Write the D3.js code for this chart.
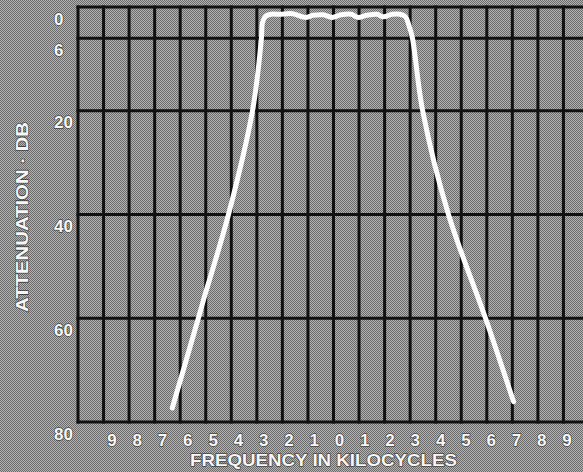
<!DOCTYPE html>
<html>
<head>
<meta charset="utf-8">
<script src="https://cdn.jsdelivr.net/npm/d3@7"></script>
<style>
  body { margin: 0; background: #8f8f8f; }
  svg { display: block; }
  .lbl { font-family: "Liberation Sans", Arial, sans-serif; font-weight: bold;
         fill: #f6f6f6; stroke: #2a2a2a; stroke-width: 1.4px; paint-order: stroke;
         stroke-opacity: 0.75; }
</style>
</head>
<body>
<div id="chart"></div>
<script>
// frequency offset from centre (kc) and attenuation (db)
var freq = [-6.31, -5.29, -5.09, -4.11, -3.17, -2.82, -2.78, -2.66, -2.45, -2.1, -1.6,
            -1.1, -0.8, -0.4, -0.05, 0.3, 0.7, 0.95, 1.3, 1.7, 1.95, 2.3, 2.6,
            2.82, 2.95, 3.09, 3.49, 4.5, 5.95, 7.05];
var atten = [77.3, 60, 56.5, 40, 20, 6, 3, 1.8, 1.4, 1.4, 1.3,
             2.0, 1.6, 1.5, 2.0, 1.5, 1.4, 2.0, 1.6, 1.4, 1.9, 1.4, 1.4,
             1.9, 3.5, 6, 20, 40, 60, 76.1];

var freqLines = d3.range(-10, 11);          // one line per kilocycle
var dbLines = [0, 6, 20, 40, 60, 80];
var dbLabels = ["0", "6", "20", "40", "60", "80"];
var freqTicks = [-9, -8, -7, -6, -5, -4, -3, -2, -1, 0, 1, 2, 3, 4, 5, 6, 7, 8, 9];
var freqLabels = ["9", "8", "7", "6", "5", "4", "3", "2", "1", "0",
                  "1", "2", "3", "4", "5", "6", "7", "8", "9"];

var width = 583, height = 472;

var svg = d3.select("#chart").append("svg")
    .attr("width", width)
    .attr("height", height);

// halftone-ish screen
var pat = svg.append("defs").append("pattern")
    .attr("id", "screen")
    .attr("width", 2).attr("height", 2)
    .attr("patternUnits", "userSpaceOnUse");
pat.append("rect").attr("width", 2).attr("height", 2).attr("fill", "#b2b2b2");
pat.append("rect").attr("width", 1).attr("height", 1).attr("fill", "#6c6c6c");
pat.append("rect").attr("x", 1).attr("y", 1).attr("width", 1).attr("height", 1).attr("fill", "#6c6c6c");

svg.append("rect")
    .attr("width", width).attr("height", height)
    .attr("fill", "url(#screen)");

var x = d3.scaleLinear().domain([-10, 10]).range([78, 589]);
var y = d3.scaleLinear().domain([0, 80]).range([7, 422]);
// printed figures sit a little off the rules
var xLab = d3.scaleLinear().domain([-9, 9]).range([112, 567]);

var grid = svg.append("g").attr("stroke", "#111").attr("stroke-width", 3);

grid.selectAll(".v")
    .data(freqLines)
    .enter().append("line")
    .attr("x1", function(d) { return x(d); })
    .attr("x2", function(d) { return x(d); })
    .attr("y1", y(0) - 1.5)
    .attr("y2", y(80) + 1.5);

grid.selectAll(".h")
    .data(dbLines)
    .enter().append("line")
    .attr("x1", x(-10) - 1.5)
    .attr("x2", width)
    .attr("y1", function(d) { return y(d); })
    .attr("y2", function(d) { return y(d); });

var line = d3.line()
    .x(function(d) { return x(d[0]); })
    .y(function(d) { return y(d[1]); })
    .curve(d3.curveCatmullRom.alpha(0.5));

var pts = freq.map(function(f, i) { return [f, atten[i]]; });

svg.append("path")
    .datum(pts)
    .attr("d", line)
    .attr("fill", "none")
    .attr("stroke", "#fcfcfc")
    .attr("stroke-width", 5)
    .attr("stroke-linejoin", "round")
    .attr("stroke-linecap", "round");

svg.selectAll(".ylab")
    .data(dbLines)
    .enter().append("text")
    .attr("class", "lbl")
    .attr("x", 54)
    .attr("y", function(d) { return y(d) + 17.5; })
    .attr("font-size", 17)
    .text(function(d, i) { return dbLabels[i]; });

svg.selectAll(".xlab")
    .data(freqTicks)
    .enter().append("text")
    .attr("class", "lbl")
    .attr("x", function(d) { return xLab(d); })
    .attr("y", 446)
    .attr("text-anchor", "middle")
    .attr("font-size", 17)
    .text(function(d, i) { return freqLabels[i]; });

svg.append("text")
    .attr("class", "lbl")
    .attr("x", 323.5)
    .attr("y", 465.5)
    .attr("text-anchor", "middle")
    .attr("font-size", 16.5)
    .attr("textLength", 267)
    .attr("lengthAdjust", "spacingAndGlyphs")
    .text("FREQUENCY IN KILOCYCLES");

svg.append("text")
    .attr("class", "lbl")
    .attr("transform", "translate(27.5,217) rotate(-90)")
    .attr("text-anchor", "middle")
    .attr("font-size", 16.5)
    .attr("textLength", 190)
    .attr("lengthAdjust", "spacingAndGlyphs")
    .text("ATTENUATION · DB");
</script>
</body>
</html>
